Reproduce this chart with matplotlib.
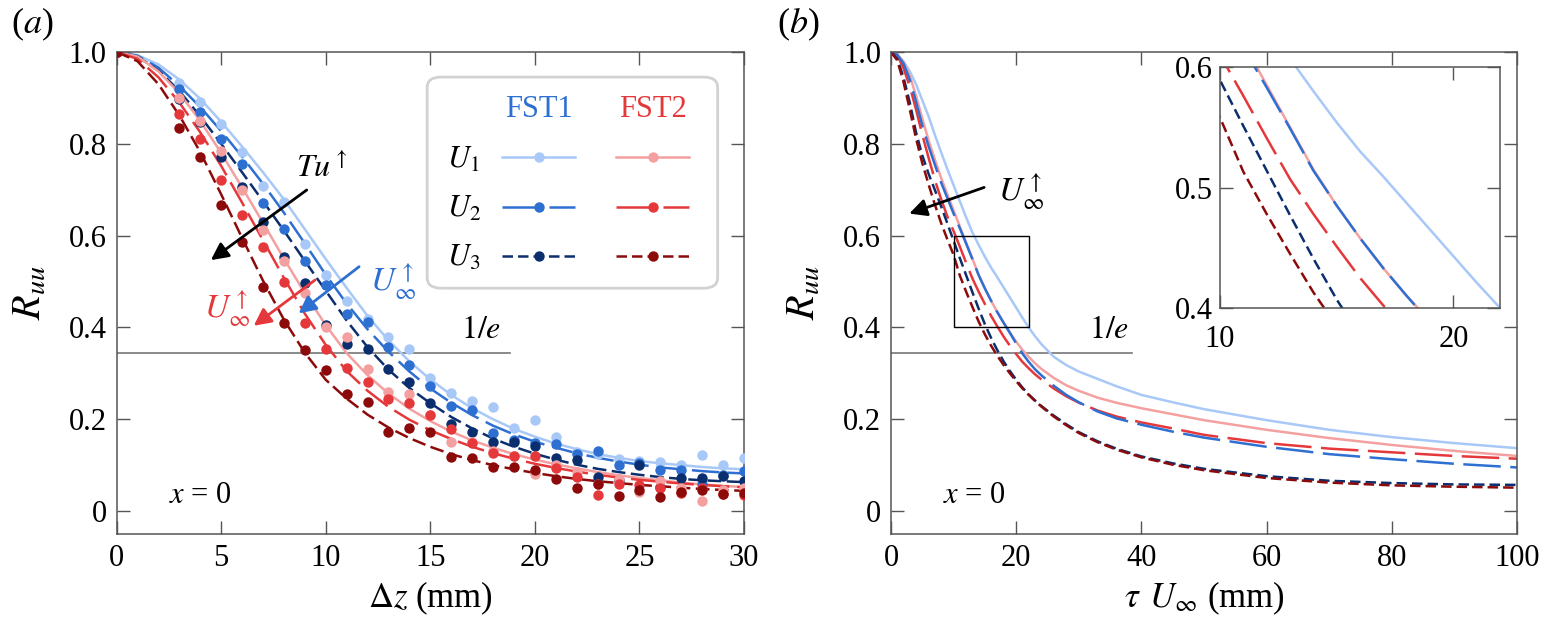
import matplotlib
matplotlib.use("Agg")
import matplotlib.pyplot as plt
from matplotlib.patches import FancyBboxPatch, Rectangle

plt.rcParams['font.family'] = ['Liberation Serif', 'DejaVu Serif']
plt.rcParams['mathtext.fontset'] = 'stix'

# ---------------- data: panel (a) ----------------
dz_pts = [0, 3, 4, 5, 6, 7, 8, 9, 10, 11, 12, 13, 14, 15, 16, 17, 18, 19, 20,
          21, 22, 23, 24, 25, 26, 27, 28, 29, 30]
fst1_u1_pts = [1.0, 0.932, 0.892, 0.843, 0.783, 0.708, 0.674, 0.581, 0.514, 0.458, 0.418, 0.38, 0.353, 0.29,
               0.258, 0.24, 0.226, 0.18, 0.198, 0.162, 0.129, 0.125, 0.113, 0.11, 0.107, 0.10, 0.122, 0.10, 0.115]
fst1_u2_pts = [1.0, 0.919, 0.870, 0.810, 0.755, 0.672, 0.614, 0.545, 0.492, 0.43, 0.412, 0.358, 0.318, 0.272,
               0.228, 0.221, 0.171, 0.155, 0.148, 0.146, 0.125, 0.131, 0.10, 0.105, 0.089, 0.089, 0.06, 0.078, 0.088]
fst1_u3_pts = [1.0, 0.897, 0.848, 0.772, 0.707, 0.630, 0.554, 0.496, 0.405, 0.365, 0.352, 0.309, 0.282, 0.235,
               0.19, 0.172, 0.151, 0.151, 0.141, 0.116, 0.112, 0.075, 0.068, 0.10, 0.052, 0.072, 0.072, 0.077, 0.065]
fst2_u1_pts = [1.0, 0.90, 0.85, 0.785, 0.70, 0.612, 0.545, 0.474, 0.40, 0.38, 0.31, 0.26, 0.256, 0.21,
               0.151, 0.15, 0.13, 0.12, 0.08, 0.10, 0.085, 0.06, 0.07, 0.041, 0.065, 0.05, 0.022, 0.045, 0.05]
fst2_u2_pts = [1.0, 0.866, 0.81, 0.721, 0.645, 0.576, 0.50, 0.41, 0.354, 0.311, 0.282, 0.245, 0.236, 0.209,
               0.178, 0.149, 0.126, 0.12, 0.12, 0.093, 0.075, 0.035, 0.06, 0.057, 0.05, 0.04, 0.05, 0.038, 0.035]
fst2_u3_pts = [1.0, 0.834, 0.772, 0.667, 0.587, 0.489, 0.41, 0.35, 0.307, 0.256, 0.238, 0.173, 0.18, 0.173,
               0.118, 0.115, 0.097, 0.097, 0.09, 0.07, 0.05, 0.06, 0.033, 0.045, 0.031, 0.042, 0.045, 0.037, 0.04]

dz_fit = list(range(31))
fst1_u1_fit = [1.0, 0.993, 0.973, 0.94, 0.898, 0.848, 0.794, 0.738, 0.679, 0.614, 0.549, 0.486, 0.425, 0.372,
               0.326, 0.287, 0.253, 0.224, 0.2, 0.179, 0.162, 0.147, 0.135, 0.124, 0.116, 0.109, 0.104, 0.1,
               0.096, 0.093, 0.091]
fst1_u2_fit = [1.0, 0.992, 0.966, 0.926, 0.88, 0.828, 0.772, 0.713, 0.65, 0.583, 0.515, 0.452, 0.396, 0.347,
               0.304, 0.267, 0.236, 0.209, 0.186, 0.167, 0.151, 0.138, 0.126, 0.116, 0.108, 0.101, 0.095, 0.091,
               0.087, 0.084, 0.082]
fst1_u3_fit = [1.0, 0.99, 0.96, 0.915, 0.86, 0.80, 0.738, 0.675, 0.611, 0.545, 0.48, 0.415, 0.357, 0.308,
               0.268, 0.235, 0.205, 0.18, 0.158, 0.14, 0.125, 0.112, 0.101, 0.092, 0.085, 0.079, 0.074, 0.07,
               0.067, 0.065, 0.063]
fst2_u1_fit = [1.0, 0.99, 0.958, 0.91, 0.85, 0.78, 0.705, 0.628, 0.55, 0.475, 0.405, 0.344, 0.296, 0.256,
               0.223, 0.196, 0.173, 0.154, 0.138, 0.124, 0.112, 0.102, 0.093, 0.085, 0.078, 0.072, 0.067, 0.062,
               0.058, 0.055, 0.052]
fst2_u2_fit = [1.0, 0.985, 0.945, 0.89, 0.825, 0.752, 0.672, 0.59, 0.508, 0.43, 0.362, 0.305, 0.262, 0.227,
               0.199, 0.176, 0.157, 0.14, 0.126, 0.114, 0.103, 0.094, 0.086, 0.079, 0.073, 0.068, 0.064, 0.06,
               0.057, 0.054, 0.052]
fst2_u3_fit = [1.0, 0.98, 0.93, 0.862, 0.782, 0.69, 0.595, 0.502, 0.417, 0.345, 0.286, 0.245, 0.21, 0.182,
               0.159, 0.14, 0.124, 0.111, 0.1, 0.091, 0.083, 0.076, 0.07, 0.065, 0.061, 0.057, 0.054, 0.051,
               0.048, 0.046, 0.044]

# ---------------- data: panel (b) ----------------
tau_u = list(range(25)) + [26, 28, 30, 33, 36, 40, 45, 50, 60, 70, 80, 90, 100]
fst1_u1_tau = [1.0, 0.995, 0.98, 0.958, 0.93, 0.895, 0.86, 0.82, 0.782, 0.745, 0.71, 0.675, 0.64, 0.607, 0.58,
               0.554, 0.53, 0.509, 0.487, 0.465, 0.443, 0.421, 0.40, 0.381, 0.364,
               0.336, 0.318, 0.304, 0.288, 0.272, 0.253, 0.237, 0.222, 0.198, 0.177, 0.161, 0.148, 0.137]
fst1_u2_tau = [1.0, 0.994, 0.975, 0.94, 0.892, 0.84, 0.795, 0.755, 0.716, 0.682, 0.648, 0.616, 0.583, 0.549,
               0.514, 0.485, 0.458, 0.433, 0.41, 0.388, 0.365, 0.343, 0.325, 0.309, 0.296,
               0.273, 0.253, 0.237, 0.217, 0.202, 0.188, 0.173, 0.16, 0.14, 0.124, 0.113, 0.103, 0.095]
fst1_u3_tau = [1.0, 0.985, 0.945, 0.89, 0.825, 0.775, 0.735, 0.70, 0.664, 0.627, 0.589, 0.551, 0.514, 0.477,
               0.441, 0.407, 0.377, 0.35, 0.326, 0.305, 0.286, 0.269, 0.254, 0.241, 0.229,
               0.208, 0.189, 0.172, 0.152, 0.136, 0.119, 0.104, 0.092, 0.076, 0.066, 0.061, 0.058, 0.057]
fst2_u1_tau = [1.0, 0.995, 0.978, 0.948, 0.905, 0.855, 0.808, 0.766, 0.726, 0.69, 0.655, 0.62, 0.585, 0.55,
               0.515, 0.485, 0.458, 0.433, 0.41, 0.389, 0.369, 0.351, 0.336, 0.322, 0.31,
               0.29, 0.274, 0.262, 0.247, 0.236, 0.224, 0.211, 0.198, 0.177, 0.159, 0.144, 0.131, 0.12]
fst2_u2_tau = [1.0, 0.993, 0.965, 0.925, 0.875, 0.82, 0.77, 0.722, 0.68, 0.642, 0.61, 0.576, 0.541, 0.507,
               0.478, 0.451, 0.425, 0.402, 0.38, 0.36, 0.342, 0.325, 0.311, 0.298, 0.287,
               0.267, 0.25, 0.236, 0.219, 0.206, 0.193, 0.18, 0.166, 0.148, 0.136, 0.128, 0.12, 0.114]
fst2_u3_tau = [1.0, 0.982, 0.935, 0.875, 0.812, 0.758, 0.712, 0.668, 0.628, 0.592, 0.558, 0.513, 0.478, 0.445,
               0.413, 0.385, 0.36, 0.338, 0.318, 0.3, 0.283, 0.267, 0.253, 0.24, 0.228,
               0.206, 0.187, 0.17, 0.15, 0.134, 0.117, 0.101, 0.089, 0.072, 0.062, 0.056, 0.053, 0.051]

# labels / levels
inv_e_level = 0.344
yticks = [0, 0.2, 0.4, 0.6, 0.8, 1.0]
ytick_labels = ["0", "0.2", "0.4", "0.6", "0.8", "1.0"]
xticks_a = [0, 5, 10, 15, 20, 25, 30]
xticks_b = [0, 20, 40, 60, 80, 100]
inset_xlim = (10, 22)
inset_ylim = (0.4, 0.6)
inset_xticks = [10, 20]
inset_yticks = [0.4, 0.5, 0.6]
group_names = ["FST1", "FST2"]
speed_names = ["$U_1$", "$U_2$", "$U_3$"]

# ---------------- styles ----------------
colors = {
    ("FST1", 0): "#a8c8f8", ("FST1", 1): "#2e6fd2", ("FST1", 2): "#0b2f6e",
    ("FST2", 0): "#f4a0a0", ("FST2", 1): "#e5383b", ("FST2", 2): "#8c0a0a",
}
head_colors = {"FST1": "#2e6fd2", "FST2": "#e5383b"}
dash_a = ["-", (0, (11, 3.2)), (0, (5.5, 2.2))]
dash_b = ["-", (0, (15, 3.8)), (0, (4.2, 2.0))]
LW = 1.8
MS = 7.5
SPINE = "#555555"
TICK_FS = 22

series_a = [
    ("FST1", 0, fst1_u1_pts, fst1_u1_fit), ("FST1", 1, fst1_u2_pts, fst1_u2_fit),
    ("FST1", 2, fst1_u3_pts, fst1_u3_fit), ("FST2", 0, fst2_u1_pts, fst2_u1_fit),
    ("FST2", 1, fst2_u2_pts, fst2_u2_fit), ("FST2", 2, fst2_u3_pts, fst2_u3_fit),
]
series_b = [
    ("FST1", 0, fst1_u1_tau), ("FST2", 0, fst2_u1_tau),
    ("FST2", 1, fst2_u2_tau), ("FST1", 1, fst1_u2_tau),
    ("FST1", 2, fst1_u3_tau), ("FST2", 2, fst2_u3_tau),
]

fig = plt.figure(figsize=(15.42, 6.31), dpi=100)
axa = fig.add_axes([0.0756, 0.1537, 0.4069, 0.7639])
axb = fig.add_axes([0.5778, 0.1537, 0.4060, 0.7639])


def style_axes(ax, xticks, fs=TICK_FS):
    ax.tick_params(direction="in", length=9.5, width=1.0, color=SPINE, top=True, right=True,
                   labelsize=fs, pad=7)
    for s in ax.spines.values():
        s.set_color(SPINE)
        s.set_linewidth(1.1)
    ax.set_xticks(xticks)
    ax.set_xticklabels([str(t) for t in xticks])


# ---------- panel (a) ----------
for grp, k, pts, fit in series_a:
    c = colors[(grp, k)]
    axa.plot(dz_fit, fit, color=c, lw=LW, linestyle=dash_a[k], zorder=2)
for grp, k, pts, fit in series_a:
    c = colors[(grp, k)]
    axa.plot(dz_pts, pts, "o", color=c, ms=MS, mec="none", zorder=3)

axa.set_xlim(0, 30)
axa.set_ylim(-0.05, 1.0)
style_axes(axa, xticks_a)
axa.set_yticks(yticks)
axa.set_yticklabels(ytick_labels)
axa.set_xlabel(r"$\Delta z$ (mm)", fontsize=25, labelpad=5)
axa.set_ylabel(r"$R_{uu}$", fontsize=29, labelpad=14)

axa.plot([0, 18.8], [inv_e_level, inv_e_level], color="#777777", lw=1.2, zorder=1)
axa.text(18.4, inv_e_level + 0.018, r"$1/e$", fontsize=23, ha="right", va="bottom")
axa.text(4.0, 0.033, r"$x$ = 0", fontsize=22, ha="center", va="center")

axa.annotate("", xy=(4.4, 0.543), xytext=(9.2, 0.703),
             arrowprops=dict(arrowstyle="-|>", color="black", lw=2.0, mutation_scale=26))
axa.text(9.8, 0.745, r"$Tu^{\uparrow}$", fontsize=23, ha="center", va="center")
axa.annotate("", xy=(8.6, 0.427), xytext=(11.7, 0.536),
             arrowprops=dict(arrowstyle="-|>", color=head_colors["FST1"], lw=2.0, mutation_scale=26))
axa.text(13.2, 0.50, r"$U_{\infty}^{\uparrow}$", fontsize=24, ha="center", va="center",
         color=head_colors["FST1"])
axa.annotate("", xy=(6.45, 0.40), xytext=(9.6, 0.507),
             arrowprops=dict(arrowstyle="-|>", color=head_colors["FST2"], lw=2.0, mutation_scale=26))
axa.text(5.3, 0.44, r"$U_{\infty}^{\uparrow}$", fontsize=24, ha="center", va="center",
         color=head_colors["FST2"])

# manual legend (axes fraction)
box = FancyBboxPatch((0.495, 0.51), 0.463, 0.438, boxstyle="round,pad=0,rounding_size=0.022",
                     transform=axa.transAxes, facecolor="white", edgecolor="#d2d2d2", lw=2.0, zorder=5)
axa.add_patch(box)
col_x = {"FST1": (0.614, 0.731), "FST2": (0.796, 0.913)}
row_y = [0.7815, 0.679, 0.5774]
for grp in group_names:
    x0, x1 = col_x[grp]
    axa.text((x0 + x1) / 2, 0.88, grp, transform=axa.transAxes, fontsize=22, ha="center", va="center",
             color=head_colors[grp], zorder=6)
    for k, yy in enumerate(row_y):
        axa.plot([x0, (x0 + x1) / 2, x1], [yy, yy, yy], transform=axa.transAxes, color=colors[(grp, k)],
                 lw=LW, linestyle=dash_b[k], marker="o", markevery=[1], ms=MS, mec="none",
                 zorder=6, clip_on=False)
for k, yy in enumerate(row_y):
    axa.text(0.526, yy - 0.005, speed_names[k], transform=axa.transAxes, fontsize=22, ha="left",
             va="center", zorder=6)

# ---------- panel (b) ----------
for grp, k, vals in series_b:
    axb.plot(tau_u, vals, color=colors[(grp, k)], lw=LW, linestyle=dash_b[k])
axb.set_xlim(0, 100)
axb.set_ylim(-0.05, 1.0)
style_axes(axb, xticks_b)
axb.set_yticks(yticks)
axb.set_yticklabels(ytick_labels)
axb.set_xlabel(r"$\tau\;\,U_{\infty}$ (mm)", fontsize=25, labelpad=5)
axb.set_ylabel(r"$R_{uu}$", fontsize=29, labelpad=14)
axb.plot([0, 38.5], [inv_e_level, inv_e_level], color="#777777", lw=1.2, zorder=1)
axb.text(38.0, inv_e_level + 0.018, r"$1/e$", fontsize=23, ha="right", va="bottom")
axb.text(13.4, 0.033, r"$x$ = 0", fontsize=22, ha="center", va="center")
axb.annotate("", xy=(2.5, 0.646), xytext=(15.3, 0.707),
             arrowprops=dict(arrowstyle="-|>", color="black", lw=2.0, mutation_scale=26))
axb.text(20.8, 0.695, r"$U_{\infty}^{\uparrow}$", fontsize=24, ha="center", va="center")
axb.add_patch(Rectangle((inset_xlim[0], inset_ylim[0]), inset_xlim[1] - inset_xlim[0],
                        inset_ylim[1] - inset_ylim[0], fill=False, edgecolor="black", lw=1.0, zorder=4))

# inset
axi = fig.add_axes([0.7912, 0.5119, 0.1816, 0.3819])
for grp, k, vals in series_b:
    axi.plot(tau_u, vals, color=colors[(grp, k)], lw=LW, linestyle=dash_b[k])
axi.set_xlim(*inset_xlim)
axi.set_ylim(*inset_ylim)
style_axes(axi, inset_xticks)
axi.set_yticks(inset_yticks)
axi.set_yticklabels([f"{v:.1f}" for v in inset_yticks])
axi.tick_params(axis="y", pad=5)
axi.tick_params(axis="x", pad=12)

fig.text(0.007, 0.962, "($a$)", fontsize=26, ha="left", va="center")
fig.text(0.504, 0.962, "($b$)", fontsize=26, ha="left", va="center")

fig.savefig("out.png", dpi=100)
